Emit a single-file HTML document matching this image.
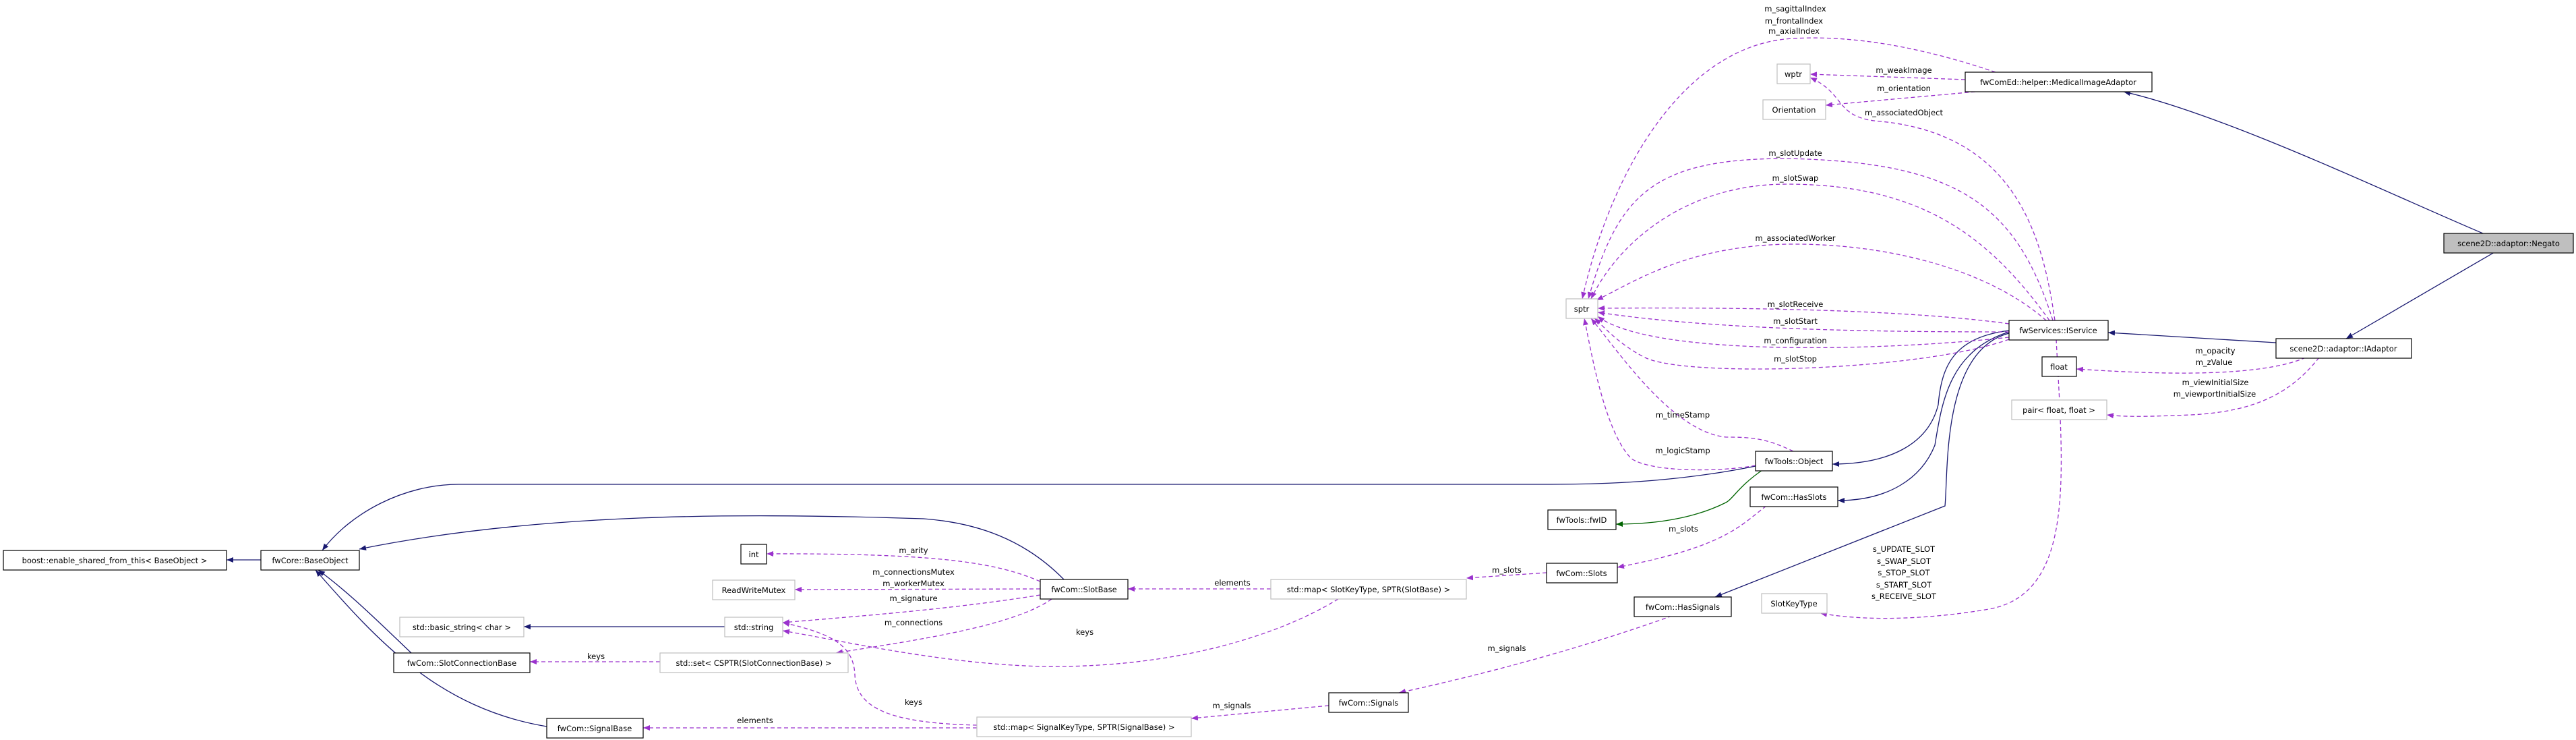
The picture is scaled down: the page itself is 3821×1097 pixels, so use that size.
<!DOCTYPE html>
<html><head><meta charset="utf-8"><style>
html,body{margin:0;padding:0;background:#fff;}
svg{display:block;}
text{font-family:"DejaVu Sans","Liberation Sans",sans-serif;font-size:11.5px;fill:#000;}
.n{fill:#fff;stroke:#000;stroke-width:1.2;}
.g{fill:#fff;stroke:#bfbfbf;stroke-width:1.2;}
.b{fill:none;stroke:#191970;stroke-width:1.3;}
.p{fill:none;stroke:#9a32cd;stroke-width:1.3;stroke-dasharray:6,4;}
.gr{fill:none;stroke:#006400;stroke-width:1.3;}
</style></head><body>
<svg width="3821" height="1097" viewBox="0 0 3821 1097" xmlns="http://www.w3.org/2000/svg">
<defs>
<marker id="mb" viewBox="0 0 10 8" refX="10" refY="4" markerWidth="10" markerHeight="8" markerUnits="userSpaceOnUse" orient="auto"><path d="M0,0L10,4L0,8z" fill="#191970"/></marker>
<marker id="mp" viewBox="0 0 10 8" refX="10" refY="4" markerWidth="10" markerHeight="8" markerUnits="userSpaceOnUse" orient="auto"><path d="M0,0L10,4L0,8z" fill="#9a32cd"/></marker>
<marker id="mg" viewBox="0 0 10 8" refX="10" refY="4" markerWidth="10" markerHeight="8" markerUnits="userSpaceOnUse" orient="auto"><path d="M0,0L10,4L0,8z" fill="#006400"/></marker>
</defs>

<g marker-end="url(#mb)">
<path class="b" d="M387,830L336,830"/>
<path class="b" d="M2604,691C2500,712 2400,718 2300,718L680,718C600,718 520,760 478,816"/>
<path class="b" d="M1578,859C1520,800 1450,775 1370,769C1100,760 800,760 533,814"/>
<path class="b" d="M610,968C570,930 520,880 472,845"/>
<path class="b" d="M811,1077C650,1050 560,950 468,845"/>
<path class="b" d="M1075,929L777,929"/>
<path class="b" d="M2980,490C2900,500 2880,540 2875,600C2860,660 2800,688 2718,688"/>
<path class="b" d="M2980,492C2890,520 2880,600 2870,660C2850,710 2800,742 2726,742"/>
<path class="b" d="M2980,494C2880,520 2890,700 2885,750L2544,885"/>
<path class="b" d="M3376,508L3127,493"/>
<path class="b" d="M3683,346C3550,290 3300,170 3150,136"/>
<path class="b" d="M3700,374L3480,502"/>
</g>
<path class="gr" marker-end="url(#mg)" d="M2614,697C2580,720 2570,740 2560,745C2500,775 2430,777 2397,777"/>

<g marker-end="url(#mp)">
<path class="p" d="M979,981L786,981"/>
<path class="p" d="M1449,1079L954,1079"/>
<path class="p" d="M1543,862C1480,835 1400,820 1137,821"/>
<path class="p" d="M1543,873L1179,874"/>
<path class="p" d="M1543,882C1400,905 1250,915 1161,923"/>
<path class="p" d="M1560,888C1500,930 1350,950 1240,968"/>
<path class="p" d="M1985,888C1900,940 1750,990 1550,988C1400,985 1250,950 1161,935"/>
<path class="p" d="M1449,1075C1320,1072 1270,1050 1268,1000C1266,960 1240,940 1161,923"/>
<path class="p" d="M1885,873L1673,873"/>
<path class="p" d="M2294,849L2175,857"/>
<path class="p" d="M2620,750C2580,780 2560,810 2399,841"/>
<path class="p" d="M2480,913C2350,960 2200,1000 2075,1027"/>
<path class="p" d="M1971,1046L1767,1065"/>
<path class="p" d="M2915,118L2685,110"/>
<path class="p" d="M2930,136L2708,156"/>
<path class="p" d="M2960,107C2850,70 2750,52 2660,57C2500,65 2390,250 2347,443"/>
<path class="p" d="M3048,475C3030,350 2990,200 2790,180C2720,175 2740,140 2685,115"/>
<path class="p" d="M3045,475C2990,300 2900,240 2650,235C2450,235 2400,290 2356,443"/>
<path class="p" d="M3040,475C2950,350 2850,273 2650,273C2500,273 2400,360 2360,443"/>
<path class="p" d="M3035,475C2950,400 2800,360 2650,362C2500,365 2420,420 2368,445"/>
<path class="p" d="M2980,480C2800,455 2500,456 2370,457"/>
<path class="p" d="M2980,492C2800,492 2550,490 2370,463"/>
<path class="p" d="M2980,500C2800,520 2450,530 2370,469"/>
<path class="p" d="M2980,503C2850,550 2500,560 2440,530C2400,510 2375,480 2365,472"/>
<path class="p" d="M2660,669C2620,650 2600,648 2560,648C2480,640 2400,520 2360,472"/>
<path class="p" d="M2604,690C2550,700 2450,700 2420,680C2380,640 2360,520 2350,472"/>
<path class="p" d="M3050,503C3060,700 3080,880 2950,903C2850,920 2760,920 2700,909"/>
<path class="p" d="M3420,530C3350,560 3200,555 3080,547"/>
<path class="p" d="M3440,530C3400,580 3350,610 3250,615C3180,618 3150,618 3125,615"/>
</g>

<g>
<rect class="n" x="5" y="816" width="331" height="29"/>
<rect class="n" x="387" y="816" width="146" height="29"/>
<rect class="n" x="1099" y="807" width="38" height="29"/>
<rect class="g" x="1057" y="860" width="122" height="29"/>
<rect class="g" x="593" y="915" width="184" height="29"/>
<rect class="g" x="1075" y="915" width="86" height="29"/>
<rect class="n" x="584" y="968" width="202" height="29"/>
<rect class="g" x="979" y="968" width="279" height="29"/>
<rect class="n" x="811" y="1065" width="143" height="29"/>
<rect class="n" x="1543" y="859" width="130" height="29"/>
<rect class="g" x="1885" y="859" width="290" height="29"/>
<rect class="n" x="2296" y="756" width="101" height="29"/>
<rect class="n" x="2294" y="835" width="105" height="29"/>
<rect class="n" x="2424" y="885" width="144" height="29"/>
<rect class="n" x="1971" y="1027" width="118" height="29"/>
<rect class="g" x="1449" y="1063" width="318" height="29"/>
<rect class="g" x="2636" y="95" width="49" height="29"/>
<rect class="g" x="2615" y="148" width="93" height="29"/>
<rect class="n" x="2915" y="107" width="277" height="29"/>
<rect class="g" x="2323" y="443" width="47" height="29"/>
<rect class="n" x="2980" y="475" width="147" height="29"/>
<rect class="n" x="3029" y="529" width="51" height="29"/>
<rect class="g" x="2984" y="593" width="141" height="29"/>
<rect class="n" x="3376" y="502" width="201" height="29"/>
<rect x="3625" y="346" width="192" height="29" fill="#bfbfbf" stroke="#000" stroke-width="1.2"/>
<rect class="n" x="2604" y="669" width="114" height="29"/>
<rect class="n" x="2596" y="722" width="130" height="29"/>
<rect class="g" x="2613" y="880" width="97" height="29"/>
</g>

<g text-anchor="middle" dominant-baseline="central">
<text x="170" y="831">boost::enable_shared_from_this&lt; BaseObject &gt;</text>
<text x="460" y="831">fwCore::BaseObject</text>
<text x="1118" y="822">int</text>
<text x="1118" y="875">ReadWriteMutex</text>
<text x="685" y="930">std::basic_string&lt; char &gt;</text>
<text x="1118" y="930">std::string</text>
<text x="685" y="983">fwCom::SlotConnectionBase</text>
<text x="1118" y="983">std::set&lt; CSPTR(SlotConnectionBase) &gt;</text>
<text x="882" y="1080">fwCom::SignalBase</text>
<text x="1608" y="874">fwCom::SlotBase</text>
<text x="2030" y="874">std::map&lt; SlotKeyType, SPTR(SlotBase) &gt;</text>
<text x="2346" y="771">fwTools::fwID</text>
<text x="2346" y="850">fwCom::Slots</text>
<text x="2496" y="900">fwCom::HasSignals</text>
<text x="2030" y="1042">fwCom::Signals</text>
<text x="1608" y="1078">std::map&lt; SignalKeyType, SPTR(SignalBase) &gt;</text>
<text x="2660" y="110">wptr</text>
<text x="2661" y="163">Orientation</text>
<text x="3053" y="122">fwComEd::helper::MedicalImageAdaptor</text>
<text x="2346" y="458">sptr</text>
<text x="3053" y="490">fwServices::IService</text>
<text x="3054" y="544">float</text>
<text x="3054" y="608">pair&lt; float, float &gt;</text>
<text x="3476" y="517">scene2D::adaptor::IAdaptor</text>
<text x="3721" y="361">scene2D::adaptor::Negato</text>
<text x="2661" y="684">fwTools::Object</text>
<text x="2661" y="737">fwCom::HasSlots</text>
<text x="2661" y="895">SlotKeyType</text>

<text x="884" y="973">keys</text>
<text x="1120" y="1068">elements</text>
<text x="1355" y="816">m_arity</text>
<text x="1355" y="848">m_connectionsMutex</text>
<text x="1355" y="865">m_workerMutex</text>
<text x="1355" y="887">m_signature</text>
<text x="1355" y="923">m_connections</text>
<text x="1609" y="937">keys</text>
<text x="1355" y="1041">keys</text>
<text x="1828" y="864">elements</text>
<text x="2235" y="845">m_slots</text>
<text x="2497" y="784">m_slots</text>
<text x="2235" y="961">m_signals</text>
<text x="1827" y="1046">m_signals</text>
<text x="2496" y="615">m_timeStamp</text>
<text x="2496" y="668">m_logicStamp</text>
<text x="2663" y="13">m_sagittalIndex</text>
<text x="2661" y="31">m_frontalIndex</text>
<text x="2661" y="46">m_axialIndex</text>
<text x="2824" y="104">m_weakImage</text>
<text x="2824" y="131">m_orientation</text>
<text x="2824" y="167">m_associatedObject</text>
<text x="2663" y="227">m_slotUpdate</text>
<text x="2663" y="264">m_slotSwap</text>
<text x="2663" y="353">m_associatedWorker</text>
<text x="2663" y="451">m_slotReceive</text>
<text x="2663" y="476">m_slotStart</text>
<text x="2663" y="505">m_configuration</text>
<text x="2663" y="532">m_slotStop</text>
<text x="2824" y="814">s_UPDATE_SLOT</text>
<text x="2824" y="832">s_SWAP_SLOT</text>
<text x="2824" y="849">s_STOP_SLOT</text>
<text x="2824" y="867">s_START_SLOT</text>
<text x="2824" y="884">s_RECEIVE_SLOT</text>
<text x="3286" y="520">m_opacity</text>
<text x="3284" y="537">m_zValue</text>
<text x="3286" y="567">m_viewInitialSize</text>
<text x="3285" y="584">m_viewportInitialSize</text>
</g>
</svg>
</body></html>
